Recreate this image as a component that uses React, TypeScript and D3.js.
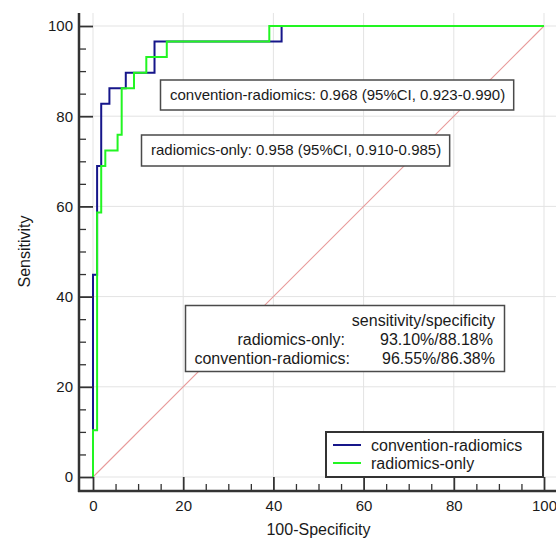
import * as d3 from 'd3'
import { useEffect, useRef } from 'react'

// ROC operating points (100-specificity, sensitivity)
const fprConvention = [0, 0, 0.91, 1.82, 3.64, 7.27, 13.64, 41.82, 100]
const sensConvention = [0, 44.83, 68.97, 82.76, 86.21, 89.66, 96.55, 100, 100]
const fprRadiomics = [0, 0, 0.91, 1.82, 2.73, 5.45, 6.36, 9.09, 11.82, 16.36, 39.09, 100]
const sensRadiomics = [0, 10.34, 58.62, 68.97, 72.41, 75.86, 86.21, 89.66, 93.1, 96.55, 100, 100]

const seriesNames = ['convention-radiomics', 'radiomics-only']
const seriesColors = ['#16168a', '#22f522']

const aucLabels = [
  'convention-radiomics: 0.968 (95%CI, 0.923-0.990)',
  'radiomics-only: 0.958 (95%CI, 0.910-0.985)',
]
const cutoffNames = ['radiomics-only:', 'convention-radiomics:']
const cutoffValues = ['93.10%/88.18%', '96.55%/86.38%']

const majorTicks = [0, 20, 40, 60, 80, 100]
const minorTicks = d3.range(0, 101, 5).filter(d => d % 20 !== 0)

const FONT = '"Liberation Sans", Arial, sans-serif'

export default function App() {
  const ref = useRef<SVGSVGElement>(null)

  useEffect(() => {
    document.body.style.margin = '0'
    const width = 556
    const height = 538

    const svg = d3.select(ref.current)
    svg.selectAll('*').remove()
    svg.attr('width', width).attr('height', height)
      .style('font-family', FONT)

    const x = d3.scaleLinear().domain([0, 100]).range([93, 544])
    const y = d3.scaleLinear().domain([0, 100]).range([477, 26])
    const plotTop = 13
    const plotRight = 556
    const spineX = 79
    const spineY = 491

    // grid
    const grid = svg.append('g').attr('stroke', '#e3e3e3').attr('stroke-width', 1)
    majorTicks.forEach(t => {
      grid.append('line')
        .attr('x1', x(t)).attr('x2', x(t))
        .attr('y1', plotTop).attr('y2', y(0))
      grid.append('line')
        .attr('x1', x(0)).attr('x2', plotRight)
        .attr('y1', y(t)).attr('y2', y(t))
    })

    // diagonal reference
    svg.append('line')
      .attr('x1', x(0)).attr('y1', y(0))
      .attr('x2', x(100)).attr('y2', y(100))
      .style('stroke', '#e89a9a')
      .style('stroke-width', '1.1px')

    // annotation boxes with AUC
    const aucPos = [
      { tx: 170, ty: 100, top: 80, h: 30 },
      { tx: 151, ty: 155, top: 135, h: 31 },
    ]
    aucLabels.forEach((label, i) => {
      const p = aucPos[i]
      const g = svg.append('g')
      const rect = g.append('rect')
        .attr('fill', '#fff').attr('stroke', '#4a4a4a').attr('stroke-width', 1.5)
      const text = g.append('text')
        .attr('x', p.tx).attr('y', p.ty)
        .attr('font-size', 15).attr('fill', '#1a1a1a')
        .text(label)
      const w = (text.node() as SVGTextElement).getComputedTextLength()
      rect.attr('x', p.tx - 9.5).attr('y', p.top)
        .attr('width', w + 18).attr('height', p.h)
    })

    // sensitivity/specificity box
    const ss = svg.append('g')
    ss.append('rect')
      .attr('x', 185.5).attr('y', 305.5).attr('width', 319).attr('height', 66)
      .attr('fill', '#fff').attr('stroke', '#4a4a4a').attr('stroke-width', 1.5)
    ss.append('text')
      .attr('x', 495).attr('y', 326).attr('text-anchor', 'end')
      .attr('font-size', 16).attr('fill', '#1a1a1a')
      .text('sensitivity/specificity')
    cutoffNames.forEach((name, i) => {
      const base = 345 + i * 19
      ss.append('text')
        .attr('x', i === 0 ? 345 : 350).attr('y', base).attr('text-anchor', 'end')
        .attr('font-size', 16).attr('fill', '#1a1a1a')
        .text(name)
      ss.append('text')
        .attr('x', i === 0 ? 493 : 495).attr('y', base).attr('text-anchor', 'end')
        .attr('font-size', 16).attr('fill', '#1a1a1a')
        .text(cutoffValues[i])
    })

    // ROC curves
    const line = d3.line<[number, number]>()
      .x(d => x(d[0]))
      .y(d => y(d[1]))
      .curve(d3.curveStepAfter)

    const curves = [
      d3.zip(fprConvention, sensConvention) as [number, number][],
      d3.zip(fprRadiomics, sensRadiomics) as [number, number][],
    ]
    curves.forEach((pts, i) => {
      svg.append('path')
        .datum(pts)
        .attr('d', line)
        .attr('fill', 'none')
        .attr('stroke', seriesColors[i])
        .attr('stroke-width', 2)
    })

    // axes: spines offset from plot, ticks pointing inward
    svg.append('line')
      .attr('x1', spineX).attr('x2', spineX)
      .attr('y1', plotTop).attr('y2', spineY + 1)
      .attr('stroke', '#333').attr('stroke-width', 2.5)
    svg.append('line')
      .attr('x1', spineX - 1).attr('x2', plotRight)
      .attr('y1', spineY).attr('y2', spineY)
      .attr('stroke', '#333').attr('stroke-width', 2.5)

    const yAxis = svg.append('g')
      .attr('transform', `translate(${spineX},0)`)
      .call(d3.axisLeft(y).tickValues(majorTicks).tickSize(-14).tickSizeOuter(0).tickPadding(6))
    const yMinor = svg.append('g')
      .attr('transform', `translate(${spineX},0)`)
      .call(d3.axisLeft(y).tickValues(minorTicks).tickSize(-7).tickSizeOuter(0).tickFormat(() => ''))

    const xAxis = svg.append('g')
      .attr('transform', `translate(0,${spineY})`)
      .call(d3.axisBottom(x).tickValues(majorTicks).tickSize(-14).tickSizeOuter(0).tickPadding(9))
    const xMinor = svg.append('g')
      .attr('transform', `translate(0,${spineY})`)
      .call(d3.axisBottom(x).tickValues(minorTicks).tickSize(-7).tickSizeOuter(0).tickFormat(() => ''))

    ;[yAxis, yMinor, xAxis, xMinor].forEach(a => {
      a.select('.domain').remove()
      a.selectAll('.tick line').attr('stroke', '#333').attr('stroke-width', 1.8)
      a.selectAll('.tick text')
        .attr('font-size', 15).attr('font-family', FONT).attr('fill', '#1a1a1a')
    })
    yMinor.selectAll('.tick line').attr('stroke-width', 1.3)
    xMinor.selectAll('.tick line').attr('stroke-width', 1.3)

    // axis titles
    svg.append('text')
      .attr('x', x(50)).attr('y', 535)
      .attr('text-anchor', 'middle')
      .attr('font-size', 16).attr('fill', '#1a1a1a')
      .text('100-Specificity')
    svg.append('text')
      .attr('transform', `translate(30,${(y(0) + y(100)) / 2}) rotate(-90)`)
      .attr('text-anchor', 'middle')
      .attr('font-size', 16).attr('fill', '#1a1a1a')
      .text('Sensitivity')

    // legend
    const legend = svg.append('g')
    legend.append('rect')
      .attr('x', 326).attr('y', 432).attr('width', 217).attr('height', 45)
      .attr('fill', '#fff').attr('stroke', '#333').attr('stroke-width', 2)
    seriesNames.forEach((name, i) => {
      const cy = 445 + i * 18
      legend.append('line')
        .attr('x1', 333).attr('x2', 361)
        .attr('y1', cy).attr('y2', cy)
        .attr('stroke', seriesColors[i]).attr('stroke-width', 2)
      legend.append('text')
        .attr('x', 371).attr('y', cy + 5.5)
        .attr('font-size', 16).attr('fill', '#1a1a1a')
        .text(name)
    })
  }, [])

  return <svg ref={ref} style={{ display: 'block' }} />
}
